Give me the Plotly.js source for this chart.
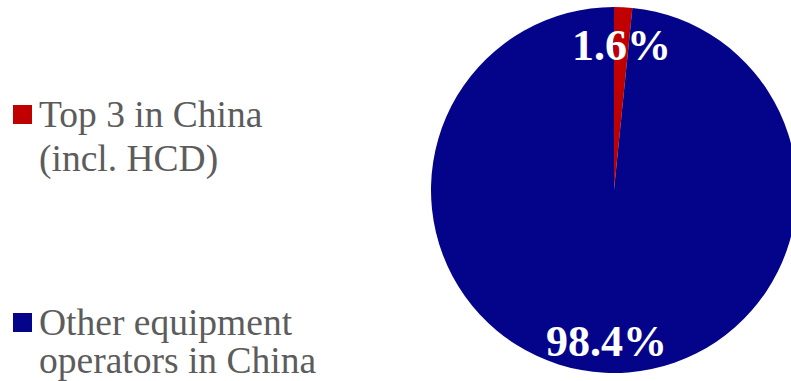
<!DOCTYPE html>
<html><head><meta charset="utf-8">
<script src="https://cdn.plot.ly/plotly-3.0.1.min.js"></script>
<style>html,body{margin:0;padding:0;overflow:hidden;width:791px;height:381px;background:#fff}</style>
</head><body><div id="chart" style="width:800px;height:381px"></div>
<script>
const categories = ["Top 3 in China<br>(incl. HCD)", "Other equipment<br>operators in China"];
const shares = [1.6, 98.4];
const colors = ["#C00000", "#04048A"];

const W = 800, H = 381;
const px = (x) => x / W, py = (y) => 1 - y / H;

const pieTrace = {
  type: "pie",
  labels: categories,
  values: shares,
  sort: false,
  direction: "clockwise",
  rotation: 0,
  marker: { colors: colors, line: { width: 0 } },
  textinfo: "none",
  hoverinfo: "label+percent",
  showlegend: false,
  domain: { x: [px(431), px(797)], y: [py(373), py(7)] }
};

const annotations = [];
const shapes = [];
// slice value labels
const labelPos = [[621, 46], [606, 341]];
shares.forEach((v, i) => {
  annotations.push({
    xref: "paper", yref: "paper", x: px(labelPos[i][0]), y: py(labelPos[i][1]),
    xanchor: "center", yanchor: "middle", showarrow: false,
    text: "<b>" + v.toFixed(1) + "%</b>",
    font: { family: "Liberation Serif, Times New Roman, serif", size: 44, color: "#ffffff" }
  });
});
// legend
const legendTop = [105, 313];
const lineGap = [45, 38];
categories.forEach((c, i) => {
  shapes.push({
    type: "rect", xref: "paper", yref: "paper",
    x0: px(13), x1: px(32), y0: py(legendTop[i]), y1: py(legendTop[i] + 19),
    fillcolor: colors[i], line: { width: 0 }
  });
  c.split("<br>").forEach((line, j) => {
    annotations.push({
      xref: "paper", yref: "paper", x: px(38), y: py(legendTop[i] + 9 + j * lineGap[i]),
      xanchor: "left", yanchor: "middle", showarrow: false, text: line, borderpad: 0,
      font: { family: "Liberation Serif, Times New Roman, serif", size: 37.5, color: "#5c5c5c" }
    });
  });
});

Plotly.newPlot("chart", [pieTrace], {
  width: W, height: H,
  margin: { l: 0, r: 0, t: 0, b: 0 },
  paper_bgcolor: "#ffffff",
  showlegend: false,
  annotations: annotations,
  shapes: shapes
}, { displayModeBar: false, staticPlot: true });
</script></body></html>
